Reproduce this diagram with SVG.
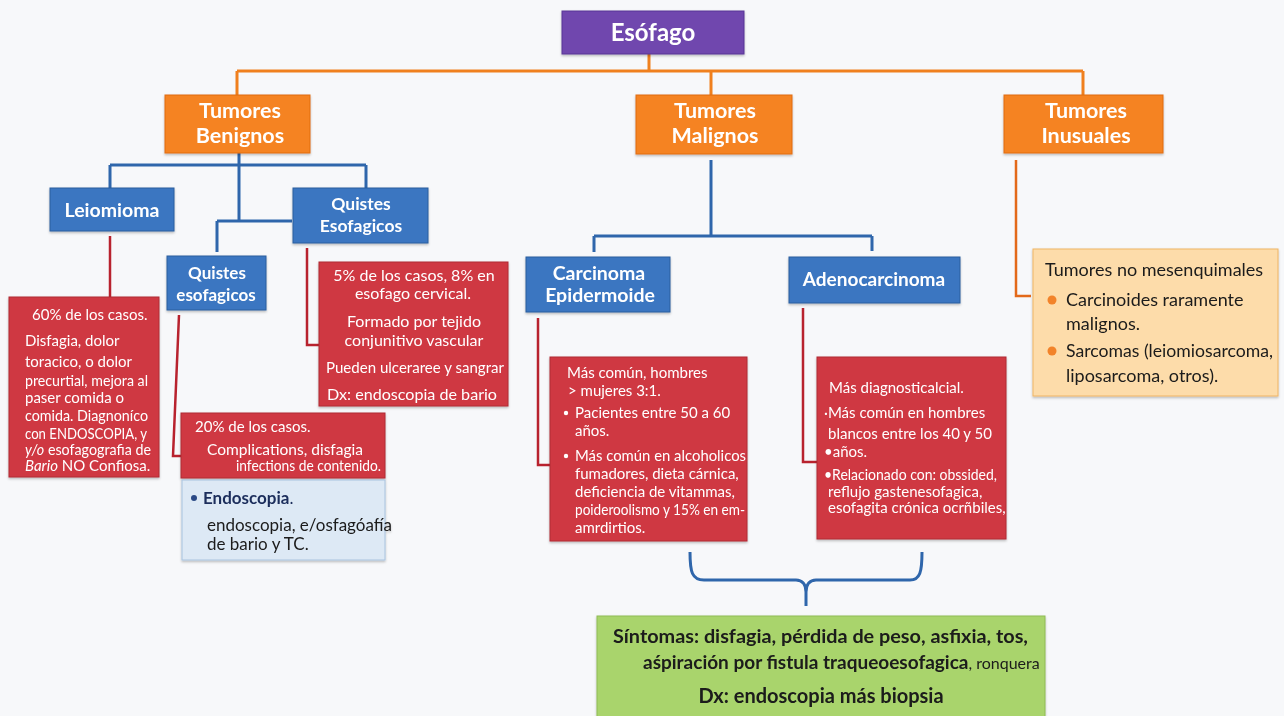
<svg xmlns="http://www.w3.org/2000/svg" width="1284" height="716" viewBox="0 0 1284 716">
<defs>
<filter id="sh" x="-5%" y="-5%" width="110%" height="115%"><feDropShadow dx="0" dy="1.5" stdDeviation="1.2" flood-color="#000" flood-opacity="0.25"/></filter>
</defs>
<style>
text{font-family:Lato,"Open Sans","Liberation Sans",sans-serif}
.purple{fill:#6f46ae;stroke:#5a3795;stroke-width:1}
.orange{fill:#f58322;stroke:#e06d10;stroke-width:1}
.blue{fill:#3a76c1;stroke:#2b5f9e;stroke-width:1}
.red{fill:#cf3843;stroke:#b02833;stroke-width:1}
.lblue{fill:#dde9f5;stroke:#a8c3df;stroke-width:1}
.beige{fill:#fddcaa;stroke:#efb565;stroke-width:1}
.green{fill:#a9d46c;stroke:#8fbb55;stroke-width:1}
.h{fill:#fff;font-weight:700;text-anchor:middle}
.t{fill:#fff;font-size:15px}
.tc{fill:#fff;font-size:16px;text-anchor:middle}
.k{fill:#1a1a1a}
.co{fill:none;stroke:#f0801e;stroke-width:3}
.cb{fill:none;stroke:#2f66ab;stroke-width:3}
.cr{fill:none;stroke:#b8222e;stroke-width:2.5}
.ci{fill:none;stroke:#e3691a;stroke-width:2.5}
</style>
<rect width="1284" height="716" fill="#f7f8fa"/>
<g id="connectors">
<path class="co" d="M649 54V71M237 71H1083M237 71V95M711 71V95M1083 71V95"/>
<path class="cb" d="M239 153V221M110 165H366M110 165V188M366 165V188M217 221H292M217 221V252"/>
<path class="cb" d="M711 160V236M594 236H872M594 236V252M872 236V251"/>
<path class="cr" d="M110 236V297"/>
<path class="cr" d="M179 315L173 456H182"/>
<path class="cr" d="M307 248V345H320"/>
<path class="cr" d="M538 318V465H551"/>
<path class="cr" d="M803 308V462H817"/>
<path class="ci" d="M1016 160V296H1031"/>
<path class="cb" stroke-width="2.5" d="M690 552C690 572 692 580 704 580H796C802 580 806 584 806 592C806 584 810 580 816 580H910C920 580 922 572 922 552M806 592V606"/>
</g>
<g id="esofago" filter="url(#sh)"><rect class="purple" x="562" y="11" width="182" height="43"/><text class="h" x="653" y="41" font-size="24">Esófago</text></g>
<g id="benignos" filter="url(#sh)"><rect class="orange" x="165" y="95" width="145" height="58"/><text class="h" x="240" y="118" font-size="21.5">Tumores</text><text class="h" x="240" y="143" font-size="21.5">Benignos</text></g>
<g id="malignos" filter="url(#sh)"><rect class="orange" x="636" y="95" width="156" height="59"/><text class="h" x="715" y="118" font-size="21.5">Tumores</text><text class="h" x="715" y="143" font-size="21.5">Malignos</text></g>
<g id="inusuales" filter="url(#sh)"><rect class="orange" x="1004" y="95" width="159" height="58"/><text class="h" x="1086" y="118" font-size="21.5">Tumores</text><text class="h" x="1086" y="143" font-size="21.5">Inusuales</text></g>
<g id="leiomioma" filter="url(#sh)"><rect class="blue" x="50" y="188" width="124" height="43"/><text class="h" x="112" y="217" font-size="19.5">Leiomioma</text></g>
<g id="quistes1" filter="url(#sh)"><rect class="blue" x="293" y="188" width="135" height="55"/><text class="h" x="361" y="210" font-size="17.5" font-weight="600">Quistes</text><text class="h" x="361" y="232" font-size="17.5" font-weight="600">Esofagicos</text></g>
<g id="quistes2" filter="url(#sh)"><rect class="blue" x="167" y="256" width="99" height="54"/><text class="h" x="217" y="279" font-size="17" font-weight="600">Quistes</text><text class="h" x="216" y="301" font-size="17" font-weight="600">esofagicos</text></g>
<g id="carcinoma" filter="url(#sh)"><rect class="blue" x="526" y="257" width="144" height="55"/><text class="h" x="599" y="280" font-size="19.5">Carcinoma</text><text class="h" x="600" y="302" font-size="19.5">Epidermoide</text></g>
<g id="adeno" filter="url(#sh)"><rect class="blue" x="789" y="257" width="171" height="46"/><text class="h" x="874" y="286" font-size="19">Adenocarcinoma</text></g>
<g id="leio-info" filter="url(#sh)"><rect class="red" x="9" y="297" width="150" height="180"/>
<text class="t" x="32" y="320">60% de los casos.</text>
<text class="t" x="25" y="346" font-size="16.5">Disfagia, dolor</text>
<text class="t" x="25" y="367" font-size="16.5">toracico, o dolor</text>
<text class="t" x="25" y="386" font-size="14.5" textLength="123" lengthAdjust="spacingAndGlyphs">precurtial, mejora al</text>
<text class="t" x="25" y="403" font-size="15">paser comida o</text>
<text class="t" x="25" y="421" font-size="14.5" textLength="123" lengthAdjust="spacingAndGlyphs">comida. Diagnoníco</text>
<text class="t" x="25" y="439" font-size="14" textLength="122" lengthAdjust="spacingAndGlyphs">con ENDOSCOPIA, y</text>
<text class="t" x="25" y="455" font-size="12" textLength="126" lengthAdjust="spacingAndGlyphs"><tspan font-style="italic">y/o</tspan> esofagografia de</text>
<text class="t" x="25" y="471" font-size="11"><tspan font-style="italic">Bario</tspan> NO Confiosa.</text>
</g>
<g id="q2-info" filter="url(#sh)"><rect class="red" x="181" y="413" width="204" height="65"/>
<text class="t" x="195" y="432" font-size="15.5">20% de los casos.</text>
<text class="t" x="207" y="455" font-size="16" textLength="156" lengthAdjust="spacingAndGlyphs">Complications, disfagia</text>
<text class="t" x="236" y="471" font-size="12" textLength="145" lengthAdjust="spacingAndGlyphs">infections de contenido.</text>
</g>
<g id="q2-dx" filter="url(#sh)"><rect class="lblue" x="182" y="480" width="203" height="80"/>
<circle cx="194" cy="498" r="3" fill="#2a4a86"/>
<text x="203" y="504" font-size="17" font-weight="700" fill="#1c2e5c">Endoscopia<tspan font-weight="400">.</tspan></text>
<text class="k" x="207" y="531" font-size="17">endoscopia, e/osfagóafía</text>
<text class="k" x="207" y="550" font-size="17">de bario y TC.</text>
</g>
<g id="q1-info" filter="url(#sh)"><rect class="red" x="319" y="262" width="189" height="144"/>
<text class="tc" x="414" y="281" font-size="15.5">5%  de los casos, 8% en</text>
<text class="tc" x="413" y="299">esofago cervical.</text>
<text class="tc" x="414" y="327" font-size="16.5">Formado por tejido</text>
<text class="tc" x="414" y="346" font-size="16.5">conjunitivo vascular</text>
<text class="tc" x="415" y="373" font-size="15" textLength="178" lengthAdjust="spacingAndGlyphs">Pueden ulceraree y sangrar</text>
<text class="tc" x="412" y="400" textLength="170" lengthAdjust="spacingAndGlyphs">Dx: endoscopia de bario</text>
</g>
<g id="carc-info" filter="url(#sh)"><rect class="red" x="550" y="357" width="197" height="184"/>
<text class="t" x="567" y="378" font-size="17">Más común, hombres</text>
<text class="t" x="568" y="396" font-size="17">&gt; mujeres 3:1.</text>
<circle cx="566" cy="413" r="2.2" fill="#fff"/>
<text class="t" x="575" y="418">Pacientes entre 50 a 60</text>
<text class="t" x="575" y="436">años.</text>
<circle cx="566" cy="456" r="2.2" fill="#fff"/>
<text class="t" x="575" y="461" font-size="14.6" textLength="171" lengthAdjust="spacingAndGlyphs">Más común en alcoholicos</text>
<text class="t" x="575" y="479">fumadores, dieta cárnica,</text>
<text class="t" x="575" y="497">deficiencia de vitammas,</text>
<text class="t" x="575" y="515" font-size="13.6" textLength="170" lengthAdjust="spacingAndGlyphs">poideroolismo y 15% en em-</text>
<text class="t" x="575" y="533">amrdirtios.</text>
</g>
<g id="adeno-info" filter="url(#sh)"><rect class="red" x="817" y="357" width="189" height="182"/>
<text class="t" x="829" y="393" font-size="17.5">Más diagnosticalcial.</text>
<text class="t" x="824" y="418" font-size="15.5">·Más común en hombres</text>
<text class="t" x="828" y="439" font-size="15.5">blancos entre los 40 y 50</text>
<text class="t" x="824" y="457" font-size="15.5">•años.</text>
<text class="t" x="824" y="480" font-size="13" textLength="173" lengthAdjust="spacingAndGlyphs">•Relacionado con: obssided,</text>
<text class="t" x="828" y="497" font-size="13.5">reflujo gastenesofagica,</text>
<text class="t" x="828" y="513" font-size="13.5">esofagita crónica ocrñbiles,</text>
</g>
<g id="inus-info" filter="url(#sh)"><rect class="beige" x="1033" y="249" width="245" height="147"/>
<text class="k" x="1045" y="276" font-size="18">Tumores no mesenquimales</text>
<circle cx="1052" cy="300" r="4.5" fill="#f2832a"/>
<text class="k" x="1066" y="306" font-size="18">Carcinoides raramente</text>
<text class="k" x="1066" y="330" font-size="18">malignos.</text>
<circle cx="1052" cy="351" r="4.5" fill="#f2832a"/>
<text class="k" x="1066" y="357" font-size="17.3" textLength="207" lengthAdjust="spacingAndGlyphs">Sarcomas (leiomiosarcoma,</text>
<text class="k" x="1066" y="382" font-size="18">liposarcoma, otros).</text>
</g>
<g id="sintomas" filter="url(#sh)"><rect class="green" x="597" y="616" width="448" height="105"/>
<text class="k" x="613" y="643" font-size="19.5" font-weight="700" textLength="415" lengthAdjust="spacingAndGlyphs">Síntomas: disfagia, pérdida de peso, asfixia, tos,</text>
<text class="k" x="643" y="669" font-size="19" font-weight="700">aśpiración por fistula traqueoesofagica<tspan font-weight="400" font-size="16">, ronquera</tspan></text>
<text class="k" x="821" y="703" font-size="20" font-weight="700" text-anchor="middle">Dx: endoscopia más biopsia</text>
</g>
</svg>
